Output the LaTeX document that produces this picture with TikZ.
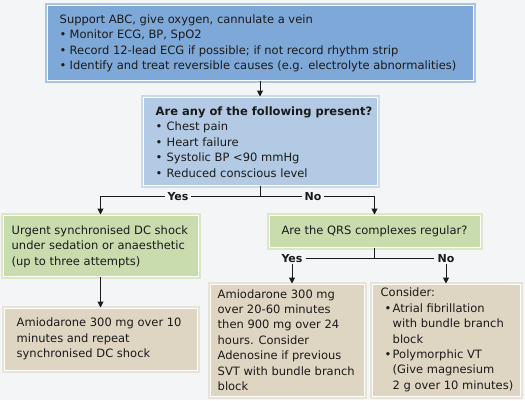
\documentclass[tikz,border=0pt]{standalone}
\usepackage{fontspec}
\setmainfont{DejaVu Sans}
\usetikzlibrary{arrows.meta,calc}
\definecolor{bg}{HTML}{F3F5F7}
\definecolor{blueA}{HTML}{7EA8D8}
\definecolor{blueAb}{HTML}{A9C5E4}
\definecolor{blueB}{HTML}{B2CAE3}
\definecolor{blueBb}{HTML}{CBDBEC}
\definecolor{greenA}{HTML}{C9DCAE}
\definecolor{greenAb}{HTML}{DAE8C6}
\definecolor{tanA}{HTML}{DED6C3}
\definecolor{tanAb}{HTML}{E9E3D5}
\definecolor{ink}{HTML}{1A1A1A}
\newcommand\bl[2][10pt]{\makebox[#1][l]{\textbullet}#2}
\newcommand\ct[2][10pt]{\hspace*{#1}#2}
\tikzset{
  boxshape/.style n args={2}{rectangle, fill=#1, draw=white, line width=1pt,
    preaction={draw=#2, line width=5pt}, inner sep=0pt},
  txt/.style={anchor=west, align=left, inner sep=0pt, text=ink,
    font=\fontsize{11.5}{15.4}\selectfont},
  lab/.style={fill=bg, inner xsep=3pt, inner ysep=1pt, text=ink,
    font=\fontsize{11}{12}\selectfont\bfseries},
  conn/.style={draw=ink, line width=1pt},
  arr/.style={conn, -{Triangle[length=6pt,width=6pt]}}
}
\begin{document}
\begin{tikzpicture}[x=1pt,y=-1pt]
\fill[bg] (0,0) rectangle (525,400);
\useasboundingbox (0,0) rectangle (525,400);

% boxes
\node[boxshape={blueA}{blueAb}, minimum width=426pt, minimum height=75pt] (b1) at (260,42.5) {};
\node[txt] (b1t) at ($(b1.west)+(13,1)$) {Support ABC, give oxygen, cannulate a vein\\
\bl{Monitor ECG, BP, SpO2}\\
\bl{Record 12-lead ECG if possible; if not record rhythm strip}\\
\bl{Identify and treat reversible causes (e.g. electrolyte abnormalities)}};

\node[boxshape={blueB}{blueBb}, minimum width=234pt, minimum height=88pt] (b2) at (260,141) {};
\node[txt] (b2t) at ($(b2.west)+(13,1)$) {\textbf{Are any of the following present?}\\
\bl[11pt]{Chest pain}\\
\bl[11pt]{Heart failure}\\
\bl[11pt]{Systolic BP <90 mmHg}\\
\bl[11pt]{Reduced conscious level}};

\node[boxshape={greenA}{greenAb}, minimum width=195pt, minimum height=61pt] (g1) at (100.5,245.5) {};
\node[txt] (g1t) at ($(g1.west)+(9,1)$) {Urgent synchronised DC shock\\
under sedation or anaesthetic\\
(up to three attempts)};

\node[boxshape={greenA}{greenAb}, minimum width=211pt, minimum height=32pt] (g2) at (374.5,231) {};
\node[txt, anchor=center] (g2t) at (g2.center) {Are the QRS complexes regular?};

\node[boxshape={tanA}{tanAb}, minimum width=193pt, minimum height=62pt] (t1) at (100.5,339) {};
\node[txt] (t1t) at ($(t1.west)+(13,0)$) {Amiodarone 300 mg over 10\\
minutes and repeat\\
synchronised DC shock};

\node[boxshape={tanA}{tanAb}, minimum width=154pt, minimum height=112pt] (t2) at (287,340) {};
\node[txt] (t2t) at ($(t2.west)+(8,0)$) {Amiodarone 300 mg\\
over 20-60 minutes\\
then 900 mg over 24\\
hours. Consider\\
Adenosine if previous\\
SVT with bundle branch\\
block};

\node[boxshape={tanA}{tanAb}, minimum width=148pt, minimum height=112pt] (t3) at (446,340) {};
\node[txt] (t3t) at ($(t3.west)+(9,0)$) {Consider:\\
\hspace*{4pt}\bl[8pt]{Atrial fibrillation}\\
\hspace*{4pt}\ct[8pt]{with bundle branch}\\
\hspace*{4pt}\ct[8pt]{block}\\
\hspace*{4pt}\bl[8pt]{Polymorphic VT}\\
\hspace*{4pt}\ct[8pt]{(Give magnesium}\\
\hspace*{4pt}\ct[8pt]{2 g over 10 minutes)}};

% connectors
\draw[arr] (b1.south) -- (b2.north);

\coordinate (j1) at ($(b2.south)+(0,11)$);
\draw[conn] (b2.south) -- (j1);
\draw[arr] (j1) -| (g1.north);
\draw[arr] (j1) -| (g2.north);
\node[lab] (yes1) at (178,197) {Yes};
\node[lab] (no1) at (313,197) {No};

\draw[arr] (g1.south) -- (t1.north);

\node[lab, fill=none] (yes2) at (292,258.5) {Yes};
\node[lab, fill=none] (no2) at (446,258.5) {No};
\coordinate (j2) at (g2.south |- yes2.center);
\draw[conn] (g2.south) -- (j2);
\draw[conn] (yes2.east) -- (no2.west);
\draw[arr] (yes2.south) -- (yes2.south |- t2.north);
\draw[arr] (no2.south) -- (no2.south |- t3.north);
\end{tikzpicture}
\end{document}
